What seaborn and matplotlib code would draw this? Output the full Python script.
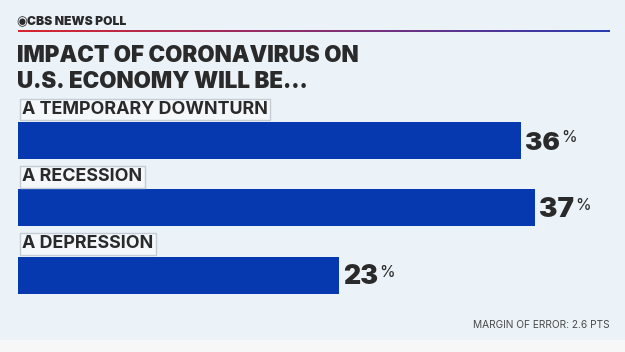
import matplotlib
matplotlib.use("Agg")
import matplotlib.pyplot as plt
import numpy as np
import pandas as pd
import seaborn as sns
from matplotlib.colors import LinearSegmentedColormap

categories = ["A TEMPORARY DOWNTURN", "A RECESSION", "A DEPRESSION"]
values = [36, 37, 23]
value_labels = ["36", "37", "23"]
brand = "CBS NEWS POLL"
title_lines = ["IMPACT OF CORONAVIRUS ON", "U.S. ECONOMY WILL BE..."]
footnote = "MARGIN OF ERROR: 2.6 PTS"

sns.set_theme(style="white")
plt.rcParams['font.family'] = ['Inter', 'DejaVu Sans']

W, H = 625, 352
fig = plt.figure(figsize=(W / 100, H / 100), dpi=100)
bg = "#ebf2f8"
fig.patch.set_facecolor(bg)
renderer = fig.canvas.get_renderer()


def fit(t, target_w):
    """Scale a text's font size so that it spans target_w pixels."""
    w = t.get_window_extent(renderer).width
    t.set_fontsize(t.get_fontsize() * target_w / w)
    return t


# pixel -> data mapping
x0_px, px_per_pct = 18.0, 13.97
c0_px, px_per_cat = 140.5, 67.25

ax = fig.add_axes([0, 0, 1, 1])
ax.set_facecolor("none")
df = pd.DataFrame({"cat": categories, "val": values})
sns.barplot(data=df, x="val", y="cat", orient="h", ax=ax, color="#0638b0",
            saturation=1, width=37 / px_per_cat, edgecolor="none")
ax.set_xlim(-x0_px / px_per_pct, (W - x0_px) / px_per_pct)
ax.set_ylim((H - c0_px) / px_per_cat, -c0_px / px_per_cat)
ax.axis("off")

dark = "#2a2a2a"
label_size = None
for i, (cat, v, lab) in enumerate(zip(categories, values, value_labels)):
    t = ax.text(0.3, i - 31 / px_per_cat, cat, ha="left", va="center",
                fontsize=label_size or 12, fontweight="bold", color=dark,
                bbox=dict(boxstyle="square,pad=0.13", facecolor="#f4f8fb",
                          edgecolor="#c5ccd4", linewidth=1.0))
    if label_size is None:
        fit(t, 247)
        label_size = t.get_fontsize()
    n = ax.text(v + 4 / px_per_pct, i + 9.5 / px_per_cat, lab, ha="left",
                va="baseline", fontsize=20, fontweight=900, color=dark)
    fit(n, 35)
    bb = n.get_window_extent(renderer)
    ax.text(v + (bb.width + 5) / px_per_pct, i + 2 / px_per_cat, "%", ha="left",
            va="baseline", fontsize=11.5, color=dark)

# header
fig.text(16 / W, 1 - 22 / H, "◉", ha="left", va="center", fontsize=9,
         color=dark, family="DejaVu Sans")
b = fig.text(27 / W, 1 - 22 / H, brand, ha="left", va="center",
             fontsize=11, fontweight=900, color=dark)
fit(b, 99)

# gradient rule
lax = fig.add_axes([18 / W, 1 - 32.5 / H, (610 - 18) / W, 2 / H])
grad = np.linspace(0, 1, 256)[None, :]
cmap = LinearSegmentedColormap.from_list("rb", ["#d8262f", "#8a2f70", "#2a3db0"])
lax.imshow(grad, aspect="auto", cmap=cmap)
lax.axis("off")

# title
t1 = fig.text(17 / W, 1 - 62 / H, title_lines[0], ha="left", va="baseline",
              fontsize=22, fontweight=900, color=dark)
fit(t1, 342)
t2 = fig.text(17 / W, 1 - 88 / H, title_lines[1], ha="left", va="baseline",
              fontsize=t1.get_fontsize(), fontweight=900, color=dark)

# footnote
f = fig.text(610 / W, 1 - 325 / H, footnote, ha="right", va="center",
             fontsize=8, color="#4a4a4a")
fit(f, 137)

# bottom shadow strip
fig.patches.append(plt.Rectangle((0, 0), 1, 12 / H, transform=fig.transFigure,
                                 facecolor="#f7f7f7", edgecolor="none"))

fig.savefig("out.png", dpi=100, facecolor=bg)
